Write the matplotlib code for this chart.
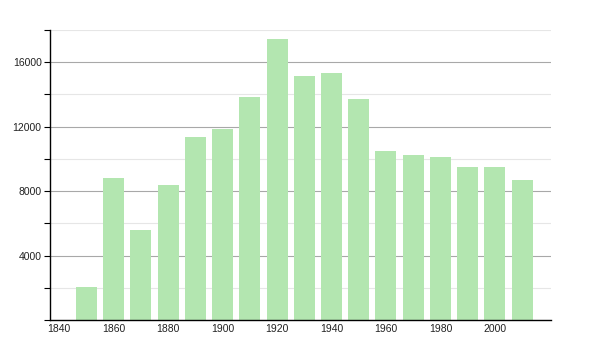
import matplotlib
matplotlib.use("Agg")
import matplotlib.pyplot as plt
from matplotlib.ticker import MultipleLocator

# census years and population
years = [1850, 1860, 1870, 1880, 1890, 1900, 1910, 1920, 1930,
         1940, 1950, 1960, 1970, 1980, 1990, 2000, 2010]
population = [2030, 8810, 5580, 8400, 11360, 11880, 13850, 17460, 15170,
              15300, 13740, 10510, 10260, 10140, 9500, 9500, 8690]

x_ticks = [1840, 1860, 1880, 1900, 1920, 1940, 1960, 1980, 2000]
y_ticks = [4000, 8000, 12000, 16000]

plt.rcParams["font.family"] = ["Liberation Sans", "DejaVu Sans"]

fig = plt.figure(figsize=(6, 3.5), dpi=100)
ax = fig.add_axes([0.0833, 0.0857, 0.835, 0.8286])

ax.bar(years, population, width=7.7, color="#b3e6b0", zorder=2)

ax.set_xlim(1836.6, 2020.6)
ax.set_ylim(0, 18000)
ax.set_xticks(x_ticks)
ax.set_yticks(y_ticks)
ax.yaxis.set_minor_locator(MultipleLocator(2000))

ax.grid(axis="y", which="major", color="#a8a8a8", linewidth=0.8, zorder=1)
ax.grid(axis="y", which="minor", color="#e6e6e6", linewidth=0.8, zorder=1)

for side in ("top", "right"):
    ax.spines[side].set_visible(False)
ax.spines["left"].set_linewidth(1.0)
ax.spines["bottom"].set_linewidth(1.0)

ax.tick_params(axis="y", which="major", length=4, width=0.8, labelsize=7.5,
               pad=2, labelcolor="#222222")
ax.tick_params(axis="y", which="minor", length=4, width=0.8)
ax.tick_params(axis="x", length=0, labelsize=7.5, pad=3, labelcolor="#222222")

fig.savefig("out.png", dpi=100)
